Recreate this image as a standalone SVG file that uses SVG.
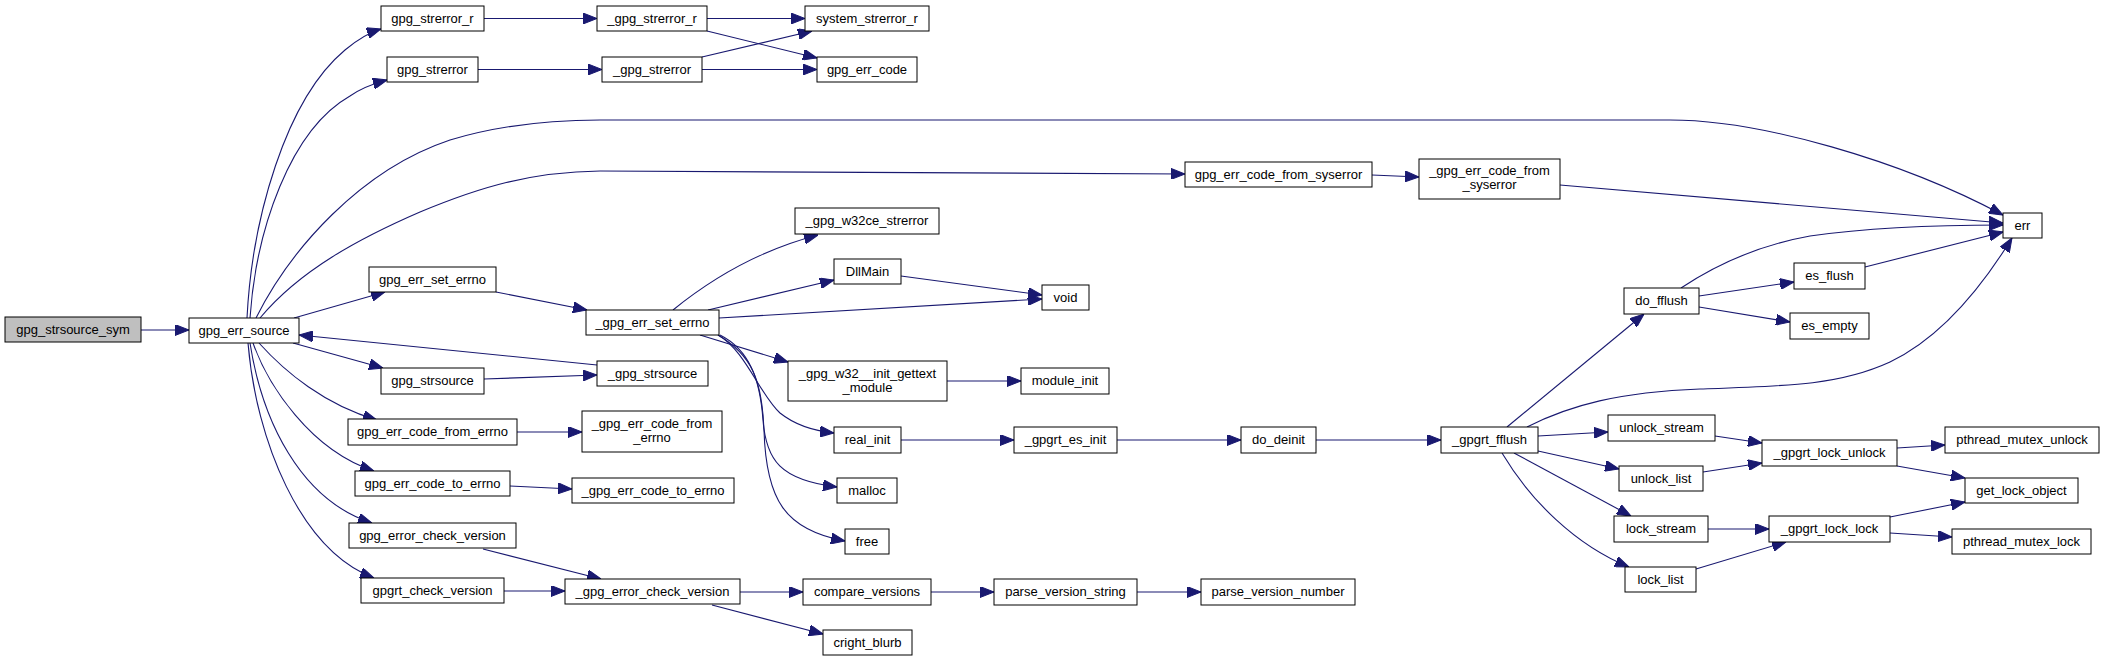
<svg xmlns="http://www.w3.org/2000/svg" width="2104" height="661" viewBox="0 0 2104 661">
<style>
.n rect{fill:#fff;stroke:#000;stroke-width:1}
.n.root rect{fill:#bfbfbf}
.n text{font-family:"Liberation Sans",Arial,sans-serif;font-size:13px;fill:#000;text-anchor:middle}
.e path{fill:none;stroke:#191970;stroke-width:1.1;marker-end:url(#ah)}
</style>
<defs>
<marker id="ah" markerUnits="userSpaceOnUse" markerWidth="14" markerHeight="11" refX="14" refY="5.5" orient="auto">
<path d="M0,0 L14,5.5 L0,11 z" fill="#191970" stroke="#191970" stroke-width="1"/>
</marker>
</defs>
<rect width="2104" height="661" fill="#fff"/>
<g id="edges" class="e">
<path d="M141,330 L189,330"/>
<path d="M247,318 C252,220 285,100 345,50 C358,39 368,33 381,29"/>
<path d="M250,318 C256,230 290,130 350,96 C360,89 372,84 387,80"/>
<path d="M256,318 C290,250 360,170 450,140 C500,125 550,120 600,120 L1670,120 C1760,120 1900,160 2003,215"/>
<path d="M260,318 C300,270 360,238 420,212 C480,187 530,172 600,171 L1185,174"/>
<path d="M294,318 L385,292"/>
<path d="M484,18.5 L597,18.5"/>
<path d="M478,69.5 L602,69.5"/>
<path d="M707,18.5 L805,18.5"/>
<path d="M707,31 L817,58"/>
<path d="M702,57 L812,31"/>
<path d="M702,69.5 L817,69.5"/>
<path d="M1372,175 L1419,177"/>
<path d="M1560,185 L2003,223"/>
<path d="M496,292 L587,310"/>
<path d="M293,343 L383,368"/>
<path d="M597,365 L299,335"/>
<path d="M484,379 L597,375"/>
<path d="M259,343 C285,372 325,405 377,420"/>
<path d="M253,343 C268,385 310,450 374,471"/>
<path d="M250,343 C262,420 300,500 372,523"/>
<path d="M248,343 C256,440 300,550 374,578"/>
<path d="M517,432 L582,432"/>
<path d="M510,486 L572,489"/>
<path d="M483,549 L601,579"/>
<path d="M504,591 L565,591"/>
<path d="M740,592 L803,592"/>
<path d="M712,605 L823,634"/>
<path d="M931,592 L994,592"/>
<path d="M1137,592 L1201,592"/>
<path d="M673,310 C710,280 760,250 818,235"/>
<path d="M708,310 L834,280"/>
<path d="M719,318 L1042,299"/>
<path d="M901,276 L1042,295"/>
<path d="M700,335 L788,362"/>
<path d="M718,335 C745,350 760,395 780,413 C795,425 815,431 834,433"/>
<path d="M720,335 C750,350 760,380 763,420 C766,460 780,480 837,487"/>
<path d="M718,335 C752,355 762,380 764,430 C766,500 785,530 845,541"/>
<path d="M901,440 L1014,440"/>
<path d="M1117,440 L1241,440"/>
<path d="M1316,440 L1441,440"/>
<path d="M947,381 L1021,381"/>
<path d="M1507,427 L1644,314"/>
<path d="M1527,427 C1570,405 1620,392 1700,389 C1790,386 1840,385 1890,362 C1940,338 1980,290 2012,238"/>
<path d="M1681,288 C1720,262 1760,245 1810,236 C1880,226 1950,225 2003,225"/>
<path d="M1699,296 L1794,282"/>
<path d="M1699,307 L1790,322"/>
<path d="M1865,267 L2003,232"/>
<path d="M1538,436 L1608,432"/>
<path d="M1538,451 L1619,469"/>
<path d="M1514,453 L1631,516"/>
<path d="M1502,453 C1530,500 1575,545 1629,567"/>
<path d="M1715,436 L1762,443"/>
<path d="M1703,472 L1762,463"/>
<path d="M1708,529 L1769,529"/>
<path d="M1696,569 L1786,542"/>
<path d="M1897,448 L1945,445"/>
<path d="M1897,466 L1965,478"/>
<path d="M1890,517 L1965,502"/>
<path d="M1890,533 L1952,537"/>
</g>
<g id="n_gpg_strsource_sym" class="n root"><rect x="5" y="317" width="136" height="25"/><text x="73" y="334">gpg_strsource_sym</text></g>
<g id="n_gpg_err_source" class="n"><rect x="189" y="318" width="110" height="25"/><text x="244" y="335">gpg_err_source</text></g>
<g id="n_gpg_strerror_r" class="n"><rect x="381" y="6" width="103" height="25"/><text x="432.5" y="23">gpg_strerror_r</text></g>
<g id="n__gpg_strerror_r" class="n"><rect x="597" y="6" width="110" height="25"/><text x="652" y="23">_gpg_strerror_r</text></g>
<g id="n_system_strerror_r" class="n"><rect x="805" y="6" width="124" height="25"/><text x="867" y="23">system_strerror_r</text></g>
<g id="n_gpg_strerror" class="n"><rect x="387" y="57" width="91" height="25"/><text x="432.5" y="74">gpg_strerror</text></g>
<g id="n__gpg_strerror" class="n"><rect x="602" y="57" width="100" height="25"/><text x="652" y="74">_gpg_strerror</text></g>
<g id="n_gpg_err_code" class="n"><rect x="817" y="57" width="100" height="25"/><text x="867" y="74">gpg_err_code</text></g>
<g id="n_gpg_err_code_from_syserror" class="n"><rect x="1185" y="162" width="187" height="25"/><text x="1278.5" y="179">gpg_err_code_from_syserror</text></g>
<g id="n__gpg_err_code_from_syserror" class="n"><rect x="1419" y="159" width="141" height="40"/><text x="1489.5" y="175">_gpg_err_code_from</text><text x="1489.5" y="189">_syserror</text></g>
<g id="n_err" class="n"><rect x="2003" y="213" width="39" height="25"/><text x="2022.5" y="230">err</text></g>
<g id="n__gpg_w32ce_strerror" class="n"><rect x="795" y="208" width="144" height="26"/><text x="867" y="225">_gpg_w32ce_strerror</text></g>
<g id="n_DllMain" class="n"><rect x="834" y="259" width="67" height="25"/><text x="867.5" y="276">DllMain</text></g>
<g id="n_void" class="n"><rect x="1042" y="285" width="47" height="25"/><text x="1065.5" y="302">void</text></g>
<g id="n_gpg_err_set_errno" class="n"><rect x="369" y="267" width="127" height="25"/><text x="432.5" y="284">gpg_err_set_errno</text></g>
<g id="n__gpg_err_set_errno" class="n"><rect x="586" y="310" width="133" height="25"/><text x="652.5" y="327">_gpg_err_set_errno</text></g>
<g id="n_gpg_strsource" class="n"><rect x="381" y="368" width="103" height="26"/><text x="432.5" y="385">gpg_strsource</text></g>
<g id="n__gpg_strsource" class="n"><rect x="597" y="361" width="111" height="25"/><text x="652.5" y="378">_gpg_strsource</text></g>
<g id="n_gpg_err_code_from_errno" class="n"><rect x="348" y="419" width="169" height="26"/><text x="432.5" y="436">gpg_err_code_from_errno</text></g>
<g id="n__gpg_err_code_from_errno" class="n"><rect x="582" y="411" width="140" height="41"/><text x="652" y="428">_gpg_err_code_from</text><text x="652" y="442">_errno</text></g>
<g id="n_gpg_err_code_to_errno" class="n"><rect x="355" y="471" width="155" height="25"/><text x="432.5" y="488">gpg_err_code_to_errno</text></g>
<g id="n__gpg_err_code_to_errno" class="n"><rect x="572" y="478" width="162" height="25"/><text x="653" y="495">_gpg_err_code_to_errno</text></g>
<g id="n_gpg_error_check_version" class="n"><rect x="349" y="523" width="167" height="25"/><text x="432.5" y="540">gpg_error_check_version</text></g>
<g id="n_gpgrt_check_version" class="n"><rect x="361" y="578" width="143" height="25"/><text x="432.5" y="595">gpgrt_check_version</text></g>
<g id="n__gpg_error_check_version" class="n"><rect x="565" y="579" width="175" height="25"/><text x="652.5" y="596">_gpg_error_check_version</text></g>
<g id="n__gpg_w32__init_gettext_module" class="n"><rect x="788" y="361" width="159" height="40"/><text x="867.5" y="378">_gpg_w32__init_gettext</text><text x="867.5" y="392">_module</text></g>
<g id="n_module_init" class="n"><rect x="1021" y="368" width="88" height="26"/><text x="1065" y="385">module_init</text></g>
<g id="n_real_init" class="n"><rect x="834" y="427" width="67" height="26"/><text x="867.5" y="444">real_init</text></g>
<g id="n__gpgrt_es_init" class="n"><rect x="1014" y="427" width="103" height="26"/><text x="1065.5" y="444">_gpgrt_es_init</text></g>
<g id="n_do_deinit" class="n"><rect x="1241" y="427" width="75" height="26"/><text x="1278.5" y="444">do_deinit</text></g>
<g id="n_malloc" class="n"><rect x="837" y="478" width="60" height="25"/><text x="867" y="495">malloc</text></g>
<g id="n_free" class="n"><rect x="845" y="529" width="44" height="25"/><text x="867" y="546">free</text></g>
<g id="n_compare_versions" class="n"><rect x="803" y="579" width="128" height="26"/><text x="867" y="596">compare_versions</text></g>
<g id="n_parse_version_string" class="n"><rect x="994" y="579" width="143" height="26"/><text x="1065.5" y="596">parse_version_string</text></g>
<g id="n_parse_version_number" class="n"><rect x="1201" y="579" width="154" height="26"/><text x="1278" y="596">parse_version_number</text></g>
<g id="n_cright_blurb" class="n"><rect x="823" y="630" width="89" height="25"/><text x="867.5" y="647">cright_blurb</text></g>
<g id="n_es_flush" class="n"><rect x="1794" y="263" width="71" height="26"/><text x="1829.5" y="280">es_flush</text></g>
<g id="n_do_fflush" class="n"><rect x="1624" y="288" width="75" height="26"/><text x="1661.5" y="305">do_fflush</text></g>
<g id="n_es_empty" class="n"><rect x="1790" y="313" width="79" height="26"/><text x="1829.5" y="330">es_empty</text></g>
<g id="n__gpgrt_fflush" class="n"><rect x="1441" y="427" width="97" height="26"/><text x="1489.5" y="444">_gpgrt_fflush</text></g>
<g id="n_unlock_stream" class="n"><rect x="1608" y="415" width="107" height="26"/><text x="1661.5" y="432">unlock_stream</text></g>
<g id="n_unlock_list" class="n"><rect x="1619" y="466" width="84" height="25"/><text x="1661" y="483">unlock_list</text></g>
<g id="n_lock_stream" class="n"><rect x="1614" y="516" width="94" height="26"/><text x="1661" y="533">lock_stream</text></g>
<g id="n_lock_list" class="n"><rect x="1625" y="567" width="71" height="25"/><text x="1660.5" y="584">lock_list</text></g>
<g id="n__gpgrt_lock_unlock" class="n"><rect x="1762" y="440" width="135" height="26"/><text x="1829.5" y="457">_gpgrt_lock_unlock</text></g>
<g id="n__gpgrt_lock_lock" class="n"><rect x="1769" y="516" width="121" height="26"/><text x="1829.5" y="533">_gpgrt_lock_lock</text></g>
<g id="n_pthread_mutex_unlock" class="n"><rect x="1945" y="427" width="154" height="26"/><text x="2022" y="444">pthread_mutex_unlock</text></g>
<g id="n_get_lock_object" class="n"><rect x="1965" y="478" width="113" height="25"/><text x="2021.5" y="495">get_lock_object</text></g>
<g id="n_pthread_mutex_lock" class="n"><rect x="1952" y="529" width="139" height="25"/><text x="2021.5" y="546">pthread_mutex_lock</text></g>
</svg>
